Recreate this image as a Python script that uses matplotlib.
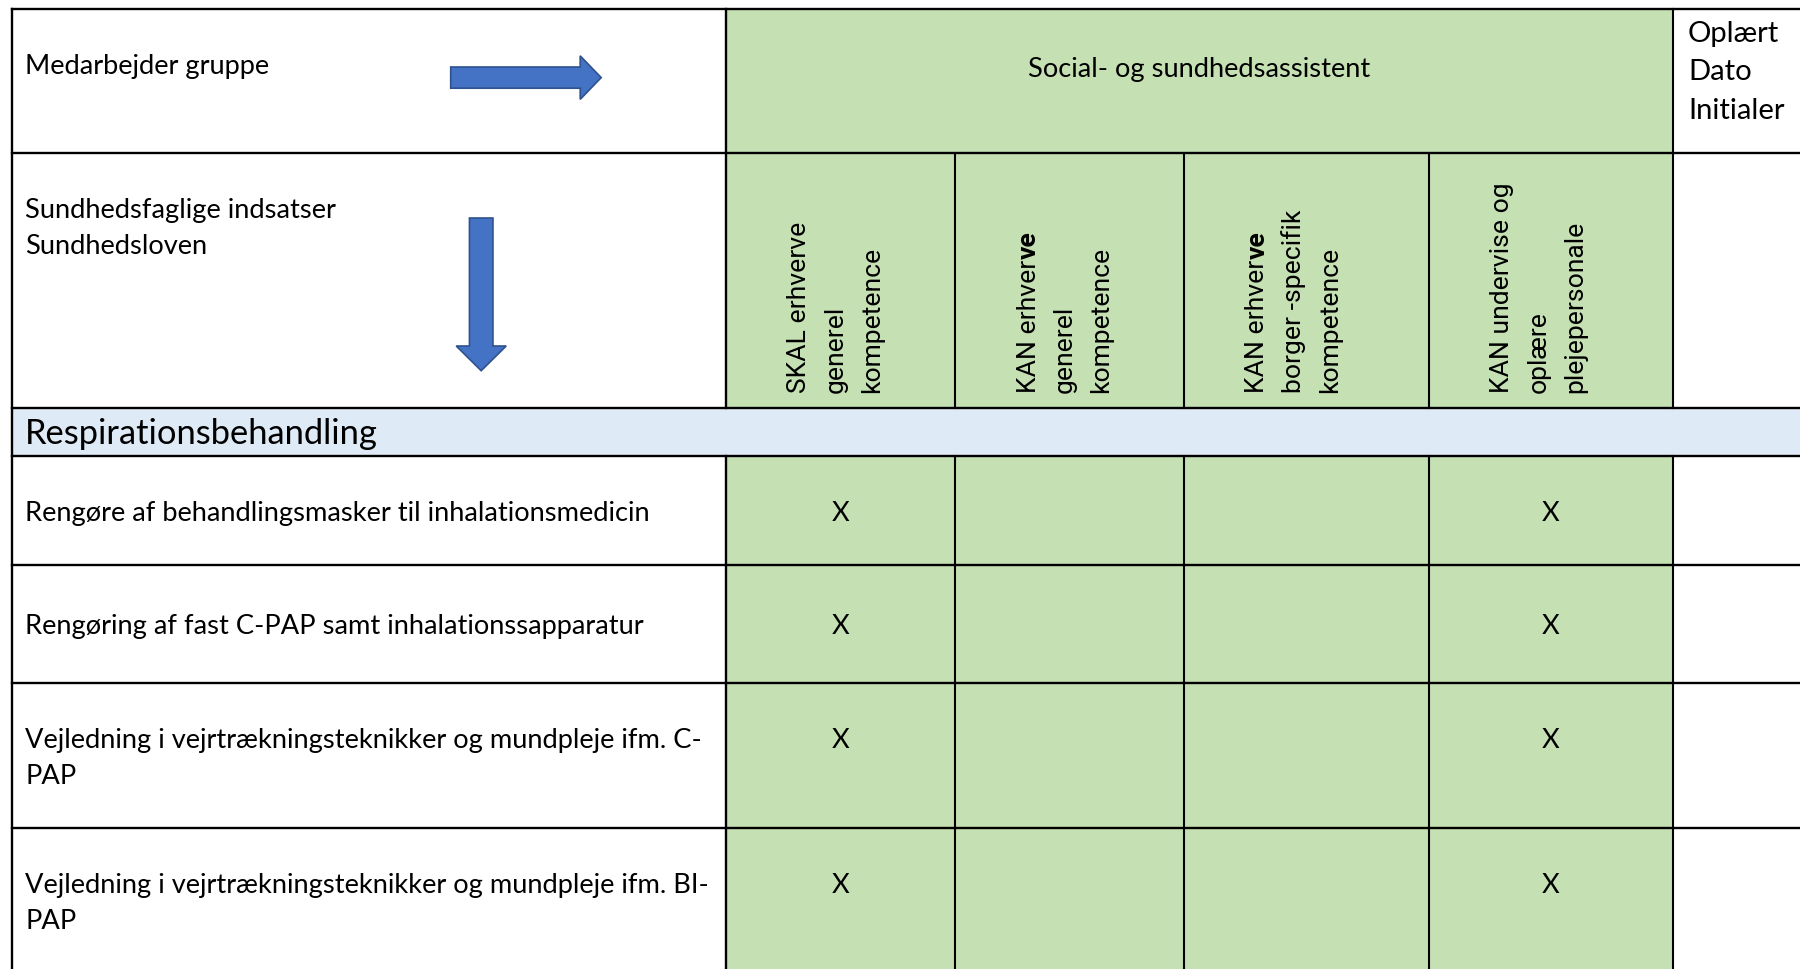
import matplotlib
matplotlib.use("Agg")
import matplotlib.pyplot as plt
from matplotlib.patches import Rectangle, FancyArrow

# ---------------- data ----------------
group_label = "Medarbejder gruppe"
task_label = ["Sundhedsfaglige indsatser", "Sundhedsloven"]
group_name = "Social- og sundhedsassistent"
signoff_label = ["Oplært", "Dato", "Initialer"]
# each header: list of lines; each line is list of (text, bold) pieces
col_headers = [
    [[("SKAL erhverve", False)], [("generel", False)], [("kompetence", False)]],
    [[("KAN erhver", False), ("ve", True)], [("generel", False)], [("kompetence", False)]],
    [[("KAN erhver", False), ("ve", True)], [("borger -specifik", False)], [("kompetence", False)]],
    [[("KAN undervise og", False)], [("oplære", False)], [("plejepersonale", False)]],
]
section_title = "Respirationsbehandling"
row_labels = [
    ["Rengøre af behandlingsmasker til inhalationsmedicin"],
    ["Rengøring af fast C-PAP samt inhalationssapparatur"],
    ["Vejledning i vejrtrækningsteknikker og mundpleje ifm. C-", "PAP"],
    ["Vejledning i vejrtrækningsteknikker og mundpleje ifm. BI-", "PAP"],
]
marks_skal = [1, 1, 1, 1]
marks_kan_generel = [0, 0, 0, 0]
marks_kan_borger = [0, 0, 0, 0]
marks_kan_undervise = [1, 1, 1, 1]
mark_symbol = "X"

# ---------------- layout ----------------
W, H = 1800, 970
fig = plt.figure(figsize=(W / 100, H / 100), dpi=100)
ax = fig.add_axes([0, 0, 1, 1])
ax.set_xlim(0, W)
ax.set_ylim(H, 0)
ax.axis("off")
fig.patch.set_facecolor("white")
renderer = fig.canvas.get_renderer()

GREEN = "#C5E0B3"
BLUE = "#DEEAF6"
ARROW = "#4472C4"
ARROW_EDGE = "#2F528F"
BODY_FONT = "Lato"
ROT_FONT = "Roboto"

x_left = 11.5
col_edges = [726, 955, 1184, 1429, 1673]
y_top = 10
y_hdr1 = 154
y_band_top = 409
y_band_bot = 457
row_edges = [457, 566, 684, 829, 974]


def fit_size(text, family, target, base=20.0, weight="normal"):
    t = ax.text(0, 0, text, fontsize=base, family=family, weight=weight)
    w = t.get_window_extent(renderer).width
    t.remove()
    return base * target / w


body_fs = fit_size(row_labels[0][0], BODY_FONT, 628)
sect_fs = fit_size(section_title, BODY_FONT, 354)
sign_fs = fit_size(signoff_label[2], BODY_FONT, 97)
rot_fs = fit_size("kompetence", ROT_FONT, 145)

# fills
ax.add_patch(Rectangle((col_edges[0], y_top), col_edges[-1] - col_edges[0], y_band_top - y_top,
                       facecolor=GREEN, edgecolor="none", zorder=0))
ax.add_patch(Rectangle((col_edges[0], y_band_bot), col_edges[-1] - col_edges[0], H - y_band_bot + 5,
                       facecolor=GREEN, edgecolor="none", zorder=0))
ax.add_patch(Rectangle((x_left, y_band_top), W - x_left + 5, y_band_bot - y_band_top,
                       facecolor=BLUE, edgecolor="none", zorder=0))

# lines
HLW = 1.7
VLW = 1.5
for y in [y_top, y_hdr1, y_band_top, y_band_bot] + row_edges[1:-1]:
    ax.plot([x_left, W + 5], [y, y], color="black", lw=HLW, solid_capstyle="projecting", zorder=3)
ax.plot([x_left, x_left], [y_top, H + 5], color="black", lw=HLW, zorder=3)
for i, x in enumerate(col_edges):
    top = y_top if i in (0, len(col_edges) - 1) else y_hdr1
    lw = HLW if i == 0 else VLW
    ax.plot([x, x], [top, y_band_top], color="black", lw=lw, zorder=3)
    ax.plot([x, x], [y_band_bot, H + 5], color="black", lw=lw, zorder=3)

# header texts
ax.text(25, 74, group_label, fontsize=body_fs, family=BODY_FONT, va="baseline", ha="left", zorder=4)
for i, line in enumerate(task_label):
    ax.text(25, 218.3 + i * 36, line, fontsize=body_fs, family=BODY_FONT, va="baseline", ha="left", zorder=4)
ax.text((col_edges[0] + col_edges[-1]) / 2, 77.3, group_name, fontsize=body_fs, family=BODY_FONT,
        va="baseline", ha="center", zorder=4)
for i, line in enumerate(signoff_label):
    ax.text(1688, 41.7 + i * 38.7, line, fontsize=sign_fs, family=BODY_FONT, va="baseline", ha="left", zorder=4)

# arrows
ax.add_patch(FancyArrow(450.7, 78.6, 150.5, 0, width=21.2, head_width=43.5, head_length=21,
                        length_includes_head=True, facecolor=ARROW, edgecolor=ARROW_EDGE, lw=1.2, zorder=4))
ax.add_patch(FancyArrow(481.2, 219, 0, 152.7, width=23.5, head_width=50, head_length=24.7,
                        length_includes_head=True, facecolor=ARROW, edgecolor=ARROW_EDGE, lw=1.2, zorder=4))

# rotated column headers
for c, header in enumerate(col_headers):
    for li, pieces in enumerate(header):
        x = col_edges[c] + 80.5 + li * 36.5
        y = 393
        for text, bold in pieces:
            t = ax.text(x, y, text, fontsize=rot_fs, family=ROT_FONT, weight="bold" if bold else "normal",
                        rotation=90, rotation_mode="anchor", ha="left", va="baseline", zorder=4)
            h = t.get_window_extent(renderer).height
            y = y - h - 1

# section band
ax.text(25, 443.6, section_title, fontsize=sect_fs, family=BODY_FONT, va="baseline", ha="left", zorder=4)

# body rows
mark_cols = [marks_skal, marks_kan_generel, marks_kan_borger, marks_kan_undervise]
for r, lines in enumerate(row_labels):
    top, bot = row_edges[r], row_edges[r + 1]
    n = len(lines)
    center = (top + bot) / 2
    base0 = center + 9.5 - (n - 1) * 36.3 / 2
    for li, line in enumerate(lines):
        ax.text(25, base0 + li * 36.3, line, fontsize=body_fs, family=BODY_FONT,
                va="baseline", ha="left", zorder=4)
    for c, marks in enumerate(mark_cols):
        if marks[r]:
            ax.text((col_edges[c] + col_edges[c + 1]) / 2, base0, mark_symbol, fontsize=body_fs,
                    family=BODY_FONT, va="baseline", ha="center", zorder=4)

fig.savefig("out.png", dpi=100, facecolor="white")
